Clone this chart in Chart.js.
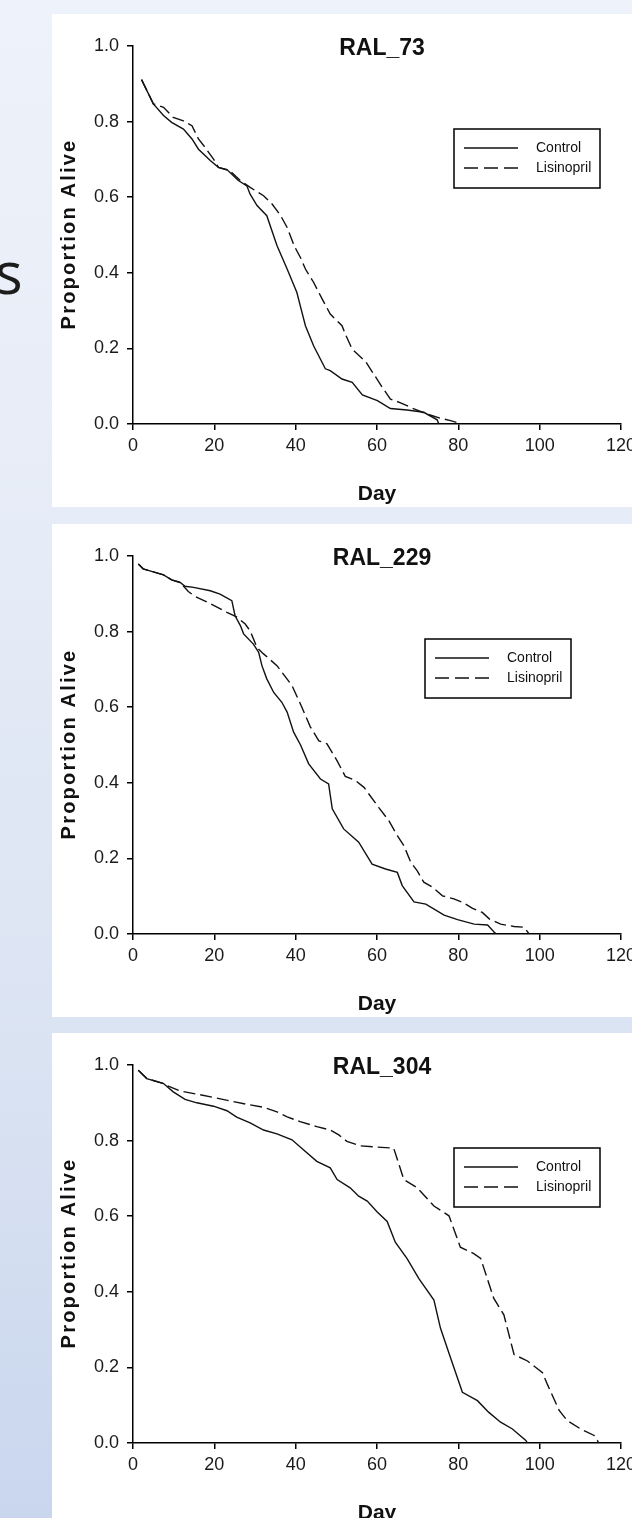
<!DOCTYPE html>
<html>
<head>
<meta charset="utf-8">
<script src="https://cdn.jsdelivr.net/npm/chart.js@4.4.0/dist/chart.umd.min.js"></script>
<style>
  html, body { margin: 0; padding: 0; }
  body {
    width: 632px; height: 1518px; overflow: hidden; position: relative;
    background: linear-gradient(180deg, #eef2fa 0%, #e6ecf7 35%, #dae3f2 70%, #c9d6ee 100%);
  }
  .panel { position: absolute; left: 52px; width: 600px; height: 493px; background: #fff; }
  .panel canvas { display: block; }
  #cut { position: absolute; left: -5px; top: 243px; font: 58px 'Open Sans', sans-serif; line-height: 1; color: #1c1c1c; }
</style>
</head>
<body>
<div id="cut">s</div>
<div class="panel" style="top:14px"><canvas id="c73" width="600" height="493"></canvas></div>
<div class="panel" style="top:524px"><canvas id="c229" width="600" height="493"></canvas></div>
<div class="panel" style="top:1033px"><canvas id="c304" width="600" height="493"></canvas></div>
<script>
const FONT = "'Liberation Sans', Arial, sans-serif";
const INK = '#111';

// RAL_73
const ral73ControlDays = [2.1, 5.0, 7.5, 9.5, 12.4, 14.5, 16.1, 19.0, 21.0, 23.1, 25.9, 28.0, 28.8, 30.5, 32.9, 35.4, 37.9, 40.3, 41.2, 42.4, 44.4, 47.3, 48.5, 51.4, 53.9, 56.4, 60.1, 63.3, 67.4, 71.5, 74.8, 75.2];
const ral73ControlAlive = [0.911, 0.847, 0.816, 0.798, 0.780, 0.754, 0.727, 0.697, 0.679, 0.673, 0.644, 0.630, 0.608, 0.578, 0.551, 0.472, 0.410, 0.348, 0.310, 0.260, 0.207, 0.146, 0.141, 0.119, 0.110, 0.077, 0.062, 0.041, 0.037, 0.031, 0.011, 0];
const ral73LisinoprilDays = [2.1, 5.0, 7.5, 9.9, 12.4, 14.5, 16.1, 17.7, 19.8, 21.0, 23.8, 26.4, 28.8, 32.1, 34.2, 36.2, 37.9, 39.7, 41.2, 42.4, 44.4, 46.5, 48.5, 51.4, 52.2, 53.9, 57.2, 59.2, 61.3, 63.3, 65.8, 69.1, 72.4, 75.7, 78.1, 80.0, 80.3];
const ral73LisinoprilAlive = [0.911, 0.847, 0.838, 0.811, 0.802, 0.789, 0.754, 0.732, 0.701, 0.679, 0.670, 0.644, 0.626, 0.604, 0.582, 0.553, 0.520, 0.470, 0.440, 0.410, 0.375, 0.331, 0.291, 0.260, 0.238, 0.198, 0.165, 0.132, 0.097, 0.066, 0.056, 0.040, 0.026, 0.015, 0.009, 0.003, 0];

// RAL_229
const ral229ControlDays = [1.3, 2.5, 5.0, 7.5, 9.5, 11.6, 12.8, 14.9, 19.0, 21.4, 24.3, 25.1, 26.4, 27.2, 29.6, 30.9, 31.7, 32.9, 34.6, 36.6, 37.9, 39.5, 41.2, 43.2, 46.1, 48.1, 49.0, 51.8, 55.5, 58.8, 62.1, 65.0, 66.2, 69.1, 72.0, 76.5, 79.8, 83.9, 87.2, 88.8, 89.0];
const ral229ControlAlive = [0.979, 0.966, 0.958, 0.950, 0.937, 0.930, 0.920, 0.917, 0.908, 0.899, 0.882, 0.842, 0.816, 0.794, 0.767, 0.745, 0.710, 0.675, 0.639, 0.613, 0.587, 0.534, 0.500, 0.450, 0.410, 0.397, 0.331, 0.278, 0.243, 0.185, 0.172, 0.163, 0.128, 0.085, 0.079, 0.050, 0.038, 0.026, 0.024, 0.005, 0];
const ral229LisinoprilDays = [1.3, 2.5, 5.0, 7.5, 9.5, 11.6, 13.6, 15.3, 18.6, 23.1, 25.6, 27.6, 28.8, 30.5, 32.1, 35.4, 39.1, 41.2, 43.6, 45.7, 47.7, 50.2, 52.2, 54.7, 56.8, 60.4, 62.9, 65.0, 66.6, 68.3, 69.9, 71.5, 73.6, 76.1, 78.9, 81.0, 83.5, 85.9, 87.6, 90.4, 93.7, 96.2, 97.4];
const ral229LisinoprilAlive = [0.979, 0.966, 0.958, 0.950, 0.937, 0.930, 0.906, 0.893, 0.876, 0.851, 0.838, 0.820, 0.802, 0.758, 0.741, 0.710, 0.657, 0.608, 0.548, 0.511, 0.503, 0.458, 0.417, 0.406, 0.388, 0.335, 0.300, 0.260, 0.234, 0.190, 0.167, 0.137, 0.124, 0.101, 0.093, 0.084, 0.068, 0.057, 0.040, 0.026, 0.020, 0.018, 0];

// RAL_304
const ral304ControlDays = [1.3, 3.4, 7.5, 9.9, 12.8, 15.7, 19.8, 23.1, 25.5, 28.8, 32.1, 35.4, 39.1, 41.9, 45.2, 48.5, 50.2, 53.4, 55.5, 57.6, 60.0, 62.5, 64.5, 67.4, 70.3, 74.0, 75.6, 78.1, 81.0, 84.7, 87.5, 90.4, 93.3, 96.6, 97.0];
const ral304ControlAlive = [0.986, 0.964, 0.951, 0.929, 0.909, 0.900, 0.891, 0.879, 0.862, 0.847, 0.828, 0.818, 0.802, 0.776, 0.745, 0.728, 0.697, 0.675, 0.653, 0.640, 0.612, 0.586, 0.531, 0.488, 0.435, 0.378, 0.304, 0.225, 0.134, 0.112, 0.081, 0.055, 0.037, 0.007, 0];
const ral304LisinoprilDays = [1.3, 3.4, 7.5, 8.3, 11.6, 15.7, 19.8, 23.9, 28.0, 32.1, 35.4, 37.9, 41.1, 45.2, 48.5, 50.6, 52.6, 55.9, 60.0, 64.1, 66.6, 69.9, 74.0, 77.7, 80.5, 83.8, 85.5, 88.7, 91.2, 93.7, 97.0, 100.7, 101.9, 104.8, 106.8, 110.1, 113.4, 114.2, 114.5];
const ral304LisinoprilAlive = [0.986, 0.964, 0.951, 0.946, 0.931, 0.923, 0.914, 0.905, 0.896, 0.888, 0.876, 0.863, 0.850, 0.837, 0.828, 0.815, 0.798, 0.786, 0.783, 0.780, 0.697, 0.675, 0.627, 0.601, 0.518, 0.501, 0.488, 0.383, 0.339, 0.234, 0.217, 0.186, 0.155, 0.086, 0.059, 0.037, 0.020, 0.007, 0];

const groupNames = ['Control', 'Lisinopril'];
const dayRange = [0, 120];
const dayStep = 20;
const aliveRange = [0, 1];
const aliveStep = 0.2;

function zip(xs, ys) {
  return xs.map((x, i) => ({ x, y: ys[i] }));
}

// chart title, rotated y title and boxed legend
const panelText = {
  id: 'panelText',
  afterDraw(chart, args, opts) {
    const { ctx, chartArea } = chart;
    ctx.save();
    ctx.fillStyle = INK;
    ctx.font = `bold 23px ${FONT}`;
    ctx.textAlign = 'center';
    ctx.textBaseline = 'alphabetic';
    ctx.fillText(opts.title, 330, 41);

    ctx.save();
    ctx.translate(23, (chartArea.top + chartArea.bottom) / 2);
    ctx.rotate(-Math.PI / 2);
    ctx.font = `bold 20px ${FONT}`;
    ctx.letterSpacing = '2.2px';
    ctx.fillText('Proportion Alive', 1, 0);
    ctx.restore();

    const lx = opts.legendX, ly = 115;
    ctx.fillStyle = '#fff';
    ctx.fillRect(lx, ly, 146, 59);
    ctx.strokeStyle = '#000';
    ctx.lineWidth = 1.5;
    ctx.strokeRect(lx, ly, 146, 59);
    ctx.font = `14px ${FONT}`;
    ctx.textAlign = 'left';
    ctx.textBaseline = 'middle';
    chart.data.datasets.forEach((ds, i) => {
      const y = ly + 19 + i * 20;
      ctx.strokeStyle = ds.borderColor;
      ctx.lineWidth = 1.3;
      ctx.setLineDash(ds.borderDash ? [14, 6] : []);
      ctx.beginPath();
      ctx.moveTo(lx + 10, y);
      ctx.lineTo(lx + 64, y);
      ctx.stroke();
      ctx.fillStyle = INK;
      ctx.fillText(ds.label, lx + 82, y);
    });
    ctx.restore();
  }
};

function makeChart(id, title, legendX, controlDays, controlAlive, lisDays, lisAlive) {
  return new Chart(document.getElementById(id), {
    type: 'line',
    data: {
      datasets: [
        { label: groupNames[0], data: zip(controlDays, controlAlive), borderColor: INK, borderWidth: 1.4, pointRadius: 0, tension: 0, fill: false },
        { label: groupNames[1], data: zip(lisDays, lisAlive), borderColor: INK, borderWidth: 1.4, borderDash: [12, 5], pointRadius: 0, tension: 0, fill: false }
      ]
    },
    options: {
      responsive: false,
      animation: false,
      devicePixelRatio: 1,
      layout: { padding: { left: 0, top: 32, right: 31, bottom: 0 } },
      plugins: {
        legend: { display: false },
        tooltip: { enabled: false },
        panelText: { title, legendX }
      },
      scales: {
        x: {
          type: 'linear',
          min: dayRange[0],
          max: dayRange[1],
          ticks: { stepSize: dayStep, color: '#1a1a1a', font: { family: FONT, size: 18 }, padding: 5, maxRotation: 0 },
          grid: { drawOnChartArea: false, tickLength: 6, color: '#000', lineWidth: 1.5 },
          border: { color: '#000', width: 1.5 },
          title: { display: true, text: 'Day', color: INK, font: { family: FONT, size: 21, weight: 'bold' }, padding: { top: 0, bottom: 0 } },
          afterFit: (s) => { s.height = 83; }
        },
        y: {
          min: aliveRange[0],
          max: aliveRange[1],
          ticks: { stepSize: aliveStep, color: '#1a1a1a', font: { family: FONT, size: 18 }, padding: 8, callback: (v) => v.toFixed(1) },
          grid: { drawOnChartArea: false, tickLength: 6, color: '#000', lineWidth: 1.5 },
          border: { color: '#000', width: 1.5 },
          afterFit: (s) => { s.width = 81; }
        }
      }
    },
    plugins: [panelText]
  });
}

makeChart('c73', 'RAL_73', 402, ral73ControlDays, ral73ControlAlive, ral73LisinoprilDays, ral73LisinoprilAlive);
makeChart('c229', 'RAL_229', 373, ral229ControlDays, ral229ControlAlive, ral229LisinoprilDays, ral229LisinoprilAlive);
makeChart('c304', 'RAL_304', 402, ral304ControlDays, ral304ControlAlive, ral304LisinoprilDays, ral304LisinoprilAlive);
</script>
</body>
</html>
